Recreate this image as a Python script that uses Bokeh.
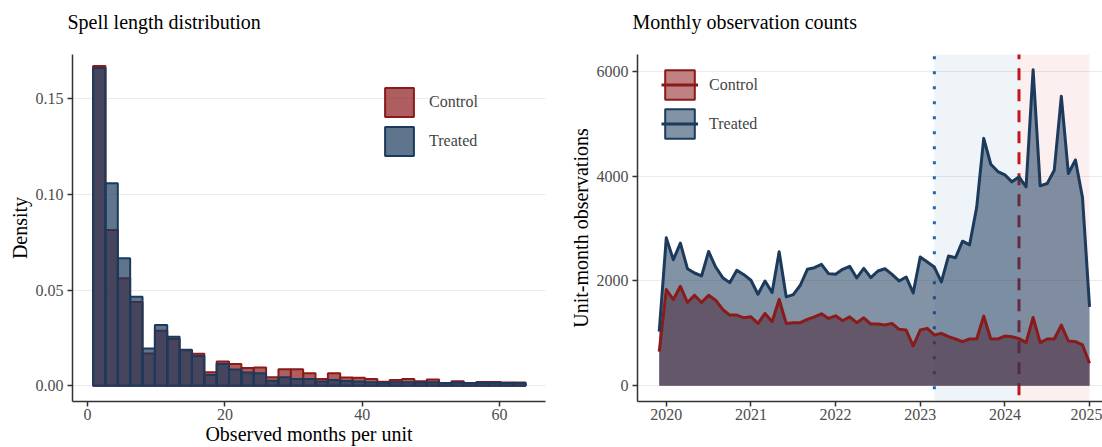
import pandas as pd
from bokeh.plotting import figure
from bokeh.layouts import row
from bokeh.models import ColumnDataSource, FixedTicker, Legend, LegendItem, Range1d, Title
from bokeh.embed import file_html
from bokeh.resources import INLINE

# ---------------- data ----------------
RED = "#8B1A1A"
BLUE = "#1B3A5C"
FONT = "Liberation Serif"

# Spell length histogram (density per bin)
bin_start = 0.8
bin_width = 1.8
control_density = [0.167, 0.0814, 0.0562, 0.0437, 0.0169, 0.0287, 0.0244, 0.0186, 0.0167,
                   0.0071, 0.0127, 0.0114, 0.0093, 0.0095, 0.0044, 0.0087, 0.0087, 0.0065,
                   0.0035, 0.0066, 0.0043, 0.0042, 0.0035, 0.0021, 0.0030, 0.0035, 0.0024,
                   0.0033, 0.0014, 0.0024, 0.0014, 0.0020, 0.0020, 0.0017, 0.0017]
treated_density = [0.166, 0.1058, 0.0666, 0.0465, 0.0195, 0.0318, 0.0256, 0.0188, 0.0155,
                   0.0056, 0.0114, 0.0085, 0.0069, 0.0065, 0.0026, 0.0044, 0.0035, 0.0035,
                   0.0023, 0.0030, 0.0025, 0.0022, 0.0018, 0.0016, 0.0018, 0.0019, 0.0017,
                   0.0018, 0.0015, 0.0017, 0.0015, 0.0016, 0.0016, 0.0014, 0.0014]

# Monthly observation counts, Dec 2019 .. Jan 2025
months = pd.date_range("2019-12-01", "2025-01-01", freq="MS")
treated_counts = [1032, 2823, 2405, 2722, 2234, 2152, 2095, 2563, 2266, 2063, 1968, 2203,
                  2120, 2013, 1747, 2000, 1778, 2557, 1696, 1740, 1918, 2222, 2253, 2316,
                  2140, 2127, 2222, 2278, 2057, 2241, 2063, 2190, 2234, 2127, 2000, 2076,
                  1772, 2456, 2361, 2266, 1981, 2475, 2443, 2759, 2690, 3405, 4722, 4228,
                  4089, 4025, 3892, 3987, 3797, 6032, 3816, 3861, 4114, 5525, 4051, 4310,
                  3595, 1506]
control_counts = [652, 1835, 1646, 1899, 1589, 1728, 1589, 1728, 1633, 1456, 1348, 1348,
                  1297, 1316, 1190, 1380, 1222, 1646, 1190, 1203, 1203, 1266, 1316, 1372,
                  1285, 1335, 1241, 1316, 1203, 1297, 1177, 1177, 1158, 1190, 1076, 1063,
                  759, 1063, 1095, 968, 1000, 937, 892, 842, 892, 892, 1329, 892,
                  892, 949, 937, 899, 823, 1304, 823, 892, 892, 1158, 854, 842,
                  778, 430]

treat_start = 2023 + 2 / 12   # dotted line
policy_date = 2024 + 2 / 12   # dashed line
window_end = 2025.0

hist_x_ticks = [0, 20, 40, 60]
hist_y_ticks = [0.0, 0.05, 0.10, 0.15]
count_x_ticks = [2020, 2021, 2022, 2023, 2024, 2025]
count_y_ticks = [0, 2000, 4000, 6000]


def style(p, xticks, yticks, xlabels, ylabels, title):
    p.outline_line_color = None
    p.background_fill_color = "white"
    p.xgrid.grid_line_color = None
    p.ygrid.grid_line_color = "#ebebeb"
    p.ygrid.grid_line_width = 1
    p.xaxis.ticker = FixedTicker(ticks=xticks)
    p.yaxis.ticker = FixedTicker(ticks=yticks)
    p.xaxis.major_label_overrides = dict(zip(xticks, xlabels))
    p.yaxis.major_label_overrides = dict(zip(yticks, ylabels))
    for ax in (p.xaxis[0], p.yaxis[0]):
        ax.axis_line_color = "#333333"
        ax.axis_line_width = 1.5
        ax.major_tick_line_color = "#333333"
        ax.major_tick_line_width = 1.5
        ax.major_tick_out = 5
        ax.major_tick_in = 0
        ax.minor_tick_line_color = None
        ax.major_label_text_font = FONT
        ax.major_label_text_font_size = "16px"
        ax.major_label_text_color = "#4d4d4d"
        ax.axis_label_text_font = FONT
        ax.axis_label_text_font_size = "20px"
        ax.axis_label_text_font_style = "normal"
        ax.axis_label_text_color = "black"
    p.xaxis[0].major_label_standoff = 2
    p.xaxis[0].axis_label_standoff = 0
    p.yaxis[0].major_label_standoff = 4
    p.yaxis[0].axis_label_standoff = 2
    # spacer panel next to the frame, then the real title above it
    p.add_layout(Title(text=" ", text_font_size="2px", standoff=16), "above")
    p.add_layout(Title(text=title, text_font=FONT, text_font_size="20px", text_font_style="normal",
                       text_color="black", standoff=4, offset=-5), "above")


# ---------------- left: histogram ----------------
p1 = figure(width=560, height=447, x_range=Range1d(-2.2, 66.7), y_range=Range1d(-0.0082, 0.173),
            output_backend="svg", toolbar_location=None,
            min_border_left=72, min_border_right=15, min_border_top=54, min_border_bottom=45,
            x_axis_label="Observed months per unit", y_axis_label="Density")
style(p1, hist_x_ticks, hist_y_ticks, ["0", "20", "40", "60"], ["0.00", "0.05", "0.10", "0.15"],
      "Spell length distribution")

lefts = [bin_start + k * bin_width for k in range(len(control_density))]
rights = [l + bin_width for l in lefts]
src_c = ColumnDataSource(dict(left=lefts, right=rights, top=control_density))
src_t = ColumnDataSource(dict(left=lefts, right=rights, top=treated_density))
hc = p1.quad(left="left", right="right", top="top", bottom=0, source=src_c,
             fill_color=RED, fill_alpha=0.7, line_color=RED, line_width=2)
ht = p1.quad(left="left", right="right", top="top", bottom=0, source=src_t,
             fill_color=BLUE, fill_alpha=0.7, line_color=BLUE, line_width=2)
leg1 = Legend(items=[LegendItem(label="Control", renderers=[hc]),
                     LegendItem(label="Treated", renderers=[ht])],
              location=(309, 242), padding=0, margin=0, spacing=3,
              glyph_width=36, glyph_height=36, label_standoff=12,
              label_text_font=FONT, label_text_font_size="16px",
              background_fill_alpha=0, border_line_alpha=0)
p1.add_layout(leg1)

# ---------------- right: monthly counts ----------------
xm = [d.year + (d.month - 1) / 12 for d in months]
p2 = figure(width=542, height=447, x_range=Range1d(2019.66, 2025.153), y_range=Range1d(-301, 6323),
            output_backend="svg", toolbar_location=None,
            min_border_left=77, min_border_right=0, min_border_top=54, min_border_bottom=45,
            y_axis_label="Unit-month observations")
style(p2, count_x_ticks, count_y_ticks, [str(t) for t in count_x_ticks], [str(t) for t in count_y_ticks],
      "Monthly observation counts")

p2.quad(left=[treat_start], right=[policy_date], bottom=[-1e5], top=[1e5],
        fill_color="#2166ac", fill_alpha=0.07, line_color=None)
p2.quad(left=[policy_date], right=[window_end], bottom=[-1e5], top=[1e5],
        fill_color="#c0161e", fill_alpha=0.07, line_color=None)
p2.segment(x0=[treat_start], x1=[treat_start], y0=[-1e5], y1=[1e5],
           line_color="#2166ac", line_width=3, line_dash="3 12")
p2.segment(x0=[policy_date], x1=[policy_date], y0=[-1e5], y1=[1e5],
           line_color="#c0161e", line_width=3, line_dash="12 9")

src = ColumnDataSource(dict(x=xm, c=control_counts, t=treated_counts))
p2.varea(x="x", y1=0, y2="c", source=src, fill_color=RED, fill_alpha=0.58)
p2.varea(x="x", y1=0, y2="t", source=src, fill_color=BLUE, fill_alpha=0.55)
lc = p2.line(x="x", y="c", source=src, line_color=RED, line_width=3, line_join="round")
lt = p2.line(x="x", y="t", source=src, line_color=BLUE, line_width=3, line_join="round")

# legend swatches (filled box with border); NaN data so nothing is drawn in the plot
nan = float("nan")
sw = ColumnDataSource(dict(left=[nan], right=[nan], top=[nan], bottom=[nan]))
dc = p2.quad(left="left", right="right", top="top", bottom="bottom", source=sw,
             fill_color=RED, fill_alpha=0.55, line_color=RED, line_width=2)
dt = p2.quad(left="left", right="right", top="top", bottom="bottom", source=sw,
             fill_color=BLUE, fill_alpha=0.55, line_color=BLUE, line_width=2)
leg2 = Legend(items=[LegendItem(label="Control", renderers=[dc, lc]),
                     LegendItem(label="Treated", renderers=[dt, lt])],
              location=(24, 259), padding=0, margin=0, spacing=2,
              glyph_width=37, glyph_height=37, label_standoff=11,
              label_text_font=FONT, label_text_font_size="16px",
              background_fill_alpha=0, border_line_alpha=0)
p2.add_layout(leg2)

layout = row(p1, p2)
open("out.html", "w").write(file_html(layout, INLINE))
